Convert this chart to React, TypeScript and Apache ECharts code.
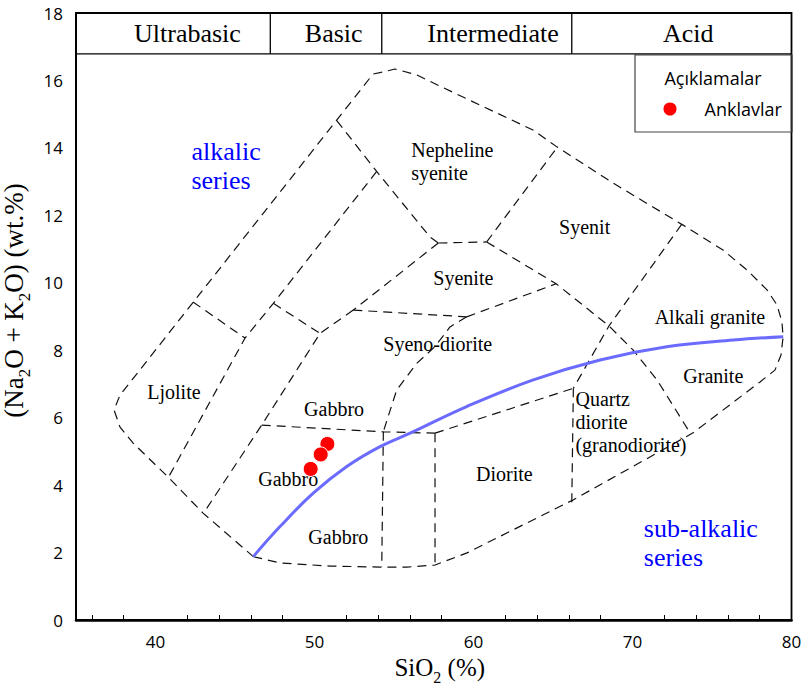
import React, { useEffect, useRef } from "react";
import * as echarts from "echarts";

// ---------- axis ticks ----------
const xLabelValues = [40, 50, 60, 70, 80];
const xMinorTickValues = [36, 38, 42, 44, 46, 48, 52, 54, 56, 58, 62, 64, 66, 68, 72, 74, 76, 78];

// ---------- header (silica classes) ----------
const headerNames = ["Ultrabasic", "Basic", "Intermediate", "Acid"];
const headerCenters = [42.01, 51.21, 61.23, 73.51];
const headerDividers = [47.22, 54.23, 66.18];
const headerBottom = 16.79;
const headerTextY = 17.39;

// ---------- samples ----------
const anklavlarSiO2 = [50.81, 50.39, 49.76];
const anklavlarAlkali = [5.22, 4.91, 4.48];

// ---------- alkalic / sub-alkalic divide ----------
const alkalineDivide: [number, number][] = [
  [46.15, 1.88], [47.83, 2.77], [49.92, 3.76], [52.03, 4.55], [54.12, 5.14],
  [56.01, 5.54], [59.57, 6.33], [63.76, 7.12], [67.96, 7.71], [72.15, 8.1],
  [76.34, 8.3], [79.48, 8.4],
];

// ---------- field boundaries (dashed) ----------
const outerBoundary: [number, number][] = [
  [46.15, 1.88], [47.83, 1.69], [50.97, 1.6], [54.12, 1.57], [55.82, 1.57],
  [57.58, 1.63], [59.59, 1.99], [66.26, 3.56], [73.81, 5.55], [78.02, 7.06],
  [78.96, 7.41], [79.34, 7.86], [79.47, 8.39], [79.4, 8.84], [79.09, 9.34],
  [78.46, 9.79], [77.2, 10.38], [75.69, 10.97], [73.18, 11.71], [68.77, 12.96],
  [65.25, 14.03], [63.74, 14.53], [60.41, 15.27], [57.45, 15.93], [56.45, 16.16],
  [55.06, 16.34], [54.31, 16.25], [53.68, 16.19], [37.77, 6.67], [37.39, 6.23],
  [37.77, 5.72], [38.58, 5.25], [40.79, 4.24], [42.99, 3.17], [46.15, 1.88],
];
const ljoliteTop: [number, number][] = [[42.36, 9.43], [45.63, 8.36]];
const diagonalA: [number, number][] = [[53.91, 13.3], [47.41, 9.39], [45.63, 8.36], [40.79, 4.21]];
const nephelineLeft: [number, number][] = [[51.4, 14.81], [53.91, 13.3], [57.26, 11.36], [57.79, 11.18]];
const syeniteTop: [number, number][] = [[57.79, 11.18], [60.83, 11.21]];
const nephelineRight: [number, number][] = [[60.83, 11.21], [65.19, 13.97]];
const syeniteLeft: [number, number][] = [[57.79, 11.18], [52.44, 9.19]];
const stepA: [number, number][] = [[47.41, 9.39], [50.35, 8.5]];
const diagonalB: [number, number][] = [[52.44, 9.19], [50.35, 8.5], [46.68, 5.78], [43.01, 3.16]];
const gabbroTop: [number, number][] = [[46.68, 5.78], [54.33, 5.58], [57.58, 5.54]];
const dioriteTop: [number, number][] = [[57.58, 5.54], [66.28, 6.87]];
const verticalA: [number, number][] = [[54.33, 5.58], [54.23, 1.57]];
const verticalB: [number, number][] = [[57.58, 5.54], [57.58, 1.63]];
const verticalC: [number, number][] = [[66.28, 6.87], [66.18, 3.46]];
const syenoTop: [number, number][] = [[52.44, 9.19], [59.57, 8.99]];
const syeniteBottom: [number, number][] = [[59.57, 8.99], [65.2, 9.97]];
const syenoRight: [number, number][] = [
  [59.57, 8.99], [58.52, 8.69], [57.58, 8.11], [56.43, 7.61], [55.17, 6.82], [54.56, 5.93], [54.33, 5.58],
];
const syenitDivide: [number, number][] = [
  [60.83, 11.21], [65.2, 9.97], [68.52, 8.72], [70.03, 8.01], [71.54, 7.12], [73.62, 5.55],
];
const alkaliGraniteLeft: [number, number][] = [[73.09, 11.73], [68.52, 8.72], [66.28, 6.87]];

const boundaries: [number, number][][] = [
  outerBoundary, ljoliteTop, diagonalA, nephelineLeft, syeniteTop, nephelineRight,
  syeniteLeft, stepA, diagonalB, gabbroTop, dioriteTop, verticalA, verticalB, verticalC,
  syenoTop, syeniteBottom, syenoRight, syenitDivide, alkaliGraniteLeft,
];

// ---------- field names ----------
const fieldNames = [
  "Syenit", "Syenite", "Alkali granite", "Syeno-diorite", "Ljolite", "Gabbro", "Gabbro",
  "Gabbro", "Diorite", "Granite",
];
const fieldX = [66.99, 59.36, 74.87, 57.75, 41.16, 51.23, 48.35, 51.5, 61.94, 75.08];
const fieldY = [11.66, 10.15, 8.99, 8.19, 6.75, 6.25, 4.18, 2.47, 4.33, 7.24];

const leftFieldNames = ["Nepheline\nsyenite", "Quartz\ndiorite\n(granodiorite)"];
const leftFieldX = [56.05, 66.38];
const leftFieldY = [13.6, 5.87];

const seriesNames = ["alkalic\nseries", "sub-alkalic\nseries"];
const seriesNameX = [42.23, 70.68];
const seriesNameY = [13.47, 2.27];

const serif = "'Liberation Serif', 'Times New Roman', serif";
const sans = "'Open Sans', 'Noto Sans', sans-serif";

const xNameRich = {
  f: { fontFamily: serif, fontSize: 25, color: "#000", verticalAlign: "top", lineHeight: 29, padding: [0, 0, 0, 12] },
  n: { fontFamily: serif, fontSize: 25, color: "#000", verticalAlign: "top", lineHeight: 29 },
  s: { fontFamily: serif, fontSize: 16, color: "#000", verticalAlign: "top", lineHeight: 18, padding: [15, 0, 0, 0] },
};
const yNameRich = {
  f: { fontFamily: serif, fontSize: 27, color: "#000", verticalAlign: "top", lineHeight: 31, padding: [0, 0, 0, 32] },
  n: { fontFamily: serif, fontSize: 27, color: "#000", verticalAlign: "top", lineHeight: 31 },
  s: { fontFamily: serif, fontSize: 17, color: "#000", verticalAlign: "top", lineHeight: 19, padding: [15, 0, 0, 0] },
};

function buildOption(): any {
  const dashed = boundaries.map((pts, i) => ({
    type: "line",
    name: "b" + i,
    data: pts,
    symbol: "none",
    silent: true,
    clip: false,
    z: 2,
    lineStyle: { type: [9, 6], width: 1.2, color: "#111" },
  }));

  const headerLines: any[] = [
    {
      type: "line",
      name: "hb",
      data: [[35, headerBottom], [80, headerBottom]],
      symbol: "none",
      silent: true,
      clip: false,
      lineStyle: { width: 1.3, color: "#000" },
    },
    ...headerDividers.map((x, i) => ({
      type: "line",
      name: "hd" + i,
      data: [[x, headerBottom], [x, 18]],
      symbol: "none",
      silent: true,
      clip: false,
      lineStyle: { width: 1.3, color: "#000" },
    })),
  ];

  const textScatter = (names: string[], xs: number[], ys: number[], label: any, nm: string) => ({
    type: "scatter",
    name: nm,
    silent: true,
    symbolSize: 1,
    itemStyle: { color: "rgba(0,0,0,0)", opacity: 1 },
    z: 5,
    data: names.map((n, i) => ({ name: n, value: [xs[i], ys[i]] })),
    label: { show: true, formatter: (p: any) => p.name, ...label },
  });

  return {
    animation: false,
    backgroundColor: "#fff",
    grid: {
      left: 76,
      right: 13.5,
      top: 13,
      bottom: 69,
      show: true,
      borderColor: "#000",
      borderWidth: 1.8,
      containLabel: false,
      outerBoundsMode: "none",
    },
    legend: {
      data: [{ name: "Anklavlar", icon: "circle" }],
      left: 661.5,
      top: 100,
      padding: 0,
      itemWidth: 15,
      itemHeight: 15,
      textStyle: { fontFamily: sans, fontSize: 18, color: "#000", padding: [0, 0, 0, 22] },
    },
    graphic: [
      {
        type: "rect",
        shape: { x: 635, y: 55, width: 157, height: 77 },
        style: { fill: "none", stroke: "#444", lineWidth: 1.2 },
      },
      {
        type: "text",
        x: 713,
        y: 78,
        style: {
          text: "Açıklamalar",
          font: "18px 'Open Sans', 'Noto Sans', sans-serif",
          fill: "#000",
          align: "center",
          verticalAlign: "middle",
          textAlign: "center",
          textVerticalAlign: "middle",
        },
      },
    ],
    xAxis: {
      type: "value",
      min: 35,
      max: 80,
      splitLine: { show: false },
      axisLine: { show: true, onZero: false, lineStyle: { color: "#000", width: 2.6 } },
      axisTick: {
        show: true,
        inside: true,
        length: 5,
        customValues: xMinorTickValues,
        lineStyle: { color: "#000", width: 1 },
      },
      axisLabel: {
        customValues: xLabelValues,
        fontFamily: sans,
        fontSize: 17,
        color: "#000",
        margin: 13,
      },
      name: "{f|SiO}{s|2}{n| (%)}",
      nameLocation: "middle",
      nameGap: 32,
      nameTextStyle: { rich: xNameRich },
    },
    yAxis: {
      type: "value",
      min: 0,
      max: 18,
      interval: 2,
      splitLine: { show: false },
      axisLine: { show: true, onZero: false, lineStyle: { color: "#000", width: 2 } },
      axisTick: { show: false },
      axisLabel: { fontFamily: sans, fontSize: 17, color: "#000", margin: 13 },
      name: "{f|(Na}{s|2}{n|O + K}{s|2}{n|O) (wt.%)}",
      nameLocation: "middle",
      nameGap: 27,
      nameTextStyle: { rich: yNameRich },
    },
    series: [
      ...dashed,
      ...headerLines,
      {
        type: "line",
        name: "divide",
        data: alkalineDivide,
        symbol: "none",
        smooth: 0.4,
        silent: true,
        z: 3,
        lineStyle: { color: "#6b6bff", width: 3 },
      },
      textScatter(headerNames, headerCenters, headerNames.map(() => headerTextY), {
        position: "inside", fontFamily: serif, fontSize: 26, color: "#000",
      }, "hdr"),
      textScatter(fieldNames, fieldX, fieldY, {
        position: "inside", fontFamily: serif, fontSize: 20, color: "#000",
      }, "fields"),
      textScatter(leftFieldNames, leftFieldX, leftFieldY, {
        position: "right", distance: 0, align: "left", fontFamily: serif, fontSize: 20, lineHeight: 23, color: "#000",
      }, "fields2"),
      textScatter(seriesNames, seriesNameX, seriesNameY, {
        position: "right", distance: 0, align: "left", fontFamily: serif, fontSize: 26, lineHeight: 29, color: "#0000ff",
      }, "seriesNames"),
      {
        type: "scatter",
        name: "Anklavlar",
        data: anklavlarSiO2.map((x, i) => [x, anklavlarAlkali[i]]),
        symbol: "circle",
        symbolSize: 15,
        z: 6,
        itemStyle: { color: "#ff0000", borderColor: "#fff", borderWidth: 1, opacity: 1 },
      },
    ],
  };
}

export default function App() {
  const ref = useRef<HTMLDivElement>(null);
  useEffect(() => {
    if (!ref.current) return;
    const chart = echarts.init(ref.current, null, { renderer: "svg" });
    chart.setOption(buildOption());
    return () => chart.dispose();
  }, []);
  return (
    <div
      ref={ref}
      style={{ position: "absolute", left: 0, top: 0, width: 805, height: 689, background: "#fff" }}
    />
  );
}
